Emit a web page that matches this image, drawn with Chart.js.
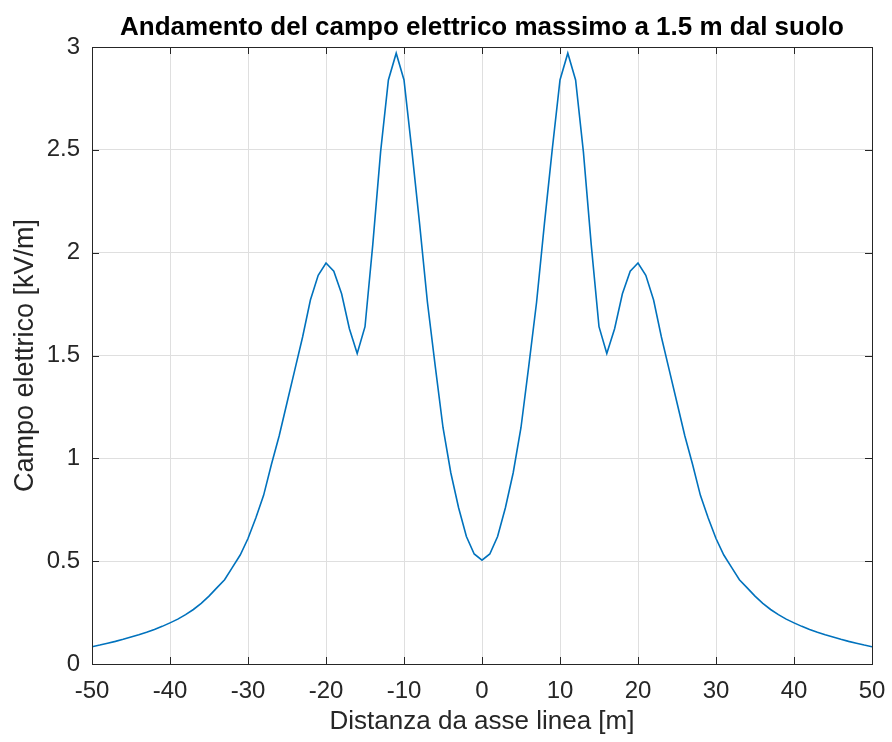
<!DOCTYPE html>
<html>
<head>
<meta charset="utf-8">
<script src="https://cdn.jsdelivr.net/npm/chart.js@4.4.1/dist/chart.umd.min.js"></script>
<style>
  html, body { margin: 0; padding: 0; background: #fff; }
  #wrap { width: 892px; height: 742px; }
</style>
</head>
<body>
<div id="wrap"><canvas id="fieldChart" width="892" height="742"></canvas></div>
<script>
// distance from line axis [m]
const distances = [
  -50, -49, -48, -47, -46, -45, -44, -43, -42, -41,
  -40, -39, -38, -37, -36, -35, -34, -33, -32, -31,
  -30, -29, -28, -27, -26, -25, -24, -23, -22, -21,
  -20, -19, -18, -17, -16, -15, -14, -13, -12, -11,
  -10, -9, -8, -7, -6, -5, -4, -3, -2, -1,
  0,
  1, 2, 3, 4, 5, 6, 7, 8, 9, 10,
  11, 12, 13, 14, 15, 16, 17, 18, 19, 20,
  21, 22, 23, 24, 25, 26, 27, 28, 29, 30,
  31, 32, 33, 34, 35, 36, 37, 38, 39, 40,
  41, 42, 43, 44, 45, 46, 47, 48, 49, 50
];

// max electric field at 1.5 m [kV/m]
const fieldValues = [
  0.084, 0.092, 0.101, 0.110, 0.120, 0.131, 0.142, 0.154, 0.168, 0.183,
  0.200, 0.218, 0.240, 0.265, 0.295, 0.330, 0.370, 0.410, 0.470, 0.530,
  0.610, 0.710, 0.820, 0.970, 1.110, 1.270, 1.430, 1.590, 1.770, 1.890,
  1.950, 1.910, 1.800, 1.630, 1.510, 1.640, 2.040, 2.490, 2.840, 2.970,
  2.840, 2.500, 2.140, 1.760, 1.450, 1.150, 0.930, 0.760, 0.620, 0.535,
  0.505,
  0.535, 0.620, 0.760, 0.930, 1.150, 1.450, 1.760, 2.140, 2.500, 2.840,
  2.970, 2.840, 2.490, 2.040, 1.640, 1.510, 1.630, 1.800, 1.910, 1.950,
  1.890, 1.770, 1.590, 1.430, 1.270, 1.110, 0.970, 0.820, 0.710, 0.610,
  0.530, 0.470, 0.410, 0.370, 0.330, 0.295, 0.265, 0.240, 0.218, 0.200,
  0.183, 0.168, 0.154, 0.142, 0.131, 0.120, 0.110, 0.101, 0.092, 0.084
];

const xTicks = [-50, -40, -30, -20, -10, 0, 10, 20, 30, 40, 50];
const yTicks = [0, 0.5, 1, 1.5, 2, 2.5, 3];

const titleText = "Andamento del campo elettrico massimo a 1.5 m dal suolo";
const xTitle = "Distanza da asse linea [m]";
const yTitle = "Campo elettrico [kV/m]";

const points = distances.map((d, i) => ({ x: d, y: fieldValues[i] }));

const font = "'Liberation Sans', Arial, Helvetica, sans-serif";

// MATLAB-like box with inward ticks on all four sides, title centred on the axes
const boxPlugin = {
  id: "boxTicks",
  afterDraw(chart) {
    const { ctx, chartArea: a, scales } = chart;
    const len = 7;
    ctx.save();
    ctx.strokeStyle = "#262626";
    ctx.lineWidth = 1;
    ctx.beginPath();
    xTicks.forEach(v => {
      const px = Math.round(scales.x.getPixelForValue(v)) + 0.5;
      ctx.moveTo(px, a.bottom); ctx.lineTo(px, a.bottom - len);
      ctx.moveTo(px, a.top); ctx.lineTo(px, a.top + len);
    });
    yTicks.forEach(v => {
      const py = Math.round(scales.y.getPixelForValue(v)) + 0.5;
      ctx.moveTo(a.left, py); ctx.lineTo(a.left + len, py);
      ctx.moveTo(a.right, py); ctx.lineTo(a.right - len, py);
    });
    ctx.stroke();
    ctx.strokeRect(Math.round(a.left) + 0.5, Math.round(a.top) + 0.5,
      Math.round(a.right - a.left), Math.round(a.bottom - a.top));

    ctx.fillStyle = "#000";
    ctx.font = "bold 26px " + font;
    ctx.textAlign = "center";
    ctx.textBaseline = "middle";
    ctx.fillText(titleText, (a.left + a.right) / 2, 28);
    ctx.restore();
  }
};

new Chart(document.getElementById("fieldChart").getContext("2d"), {
  type: "line",
  data: {
    datasets: [{
      data: points,
      borderColor: "#0072BD",
      borderWidth: 1.6,
      pointRadius: 0,
      fill: false,
      tension: 0
    }]
  },
  options: {
    responsive: false,
    animation: false,
    layout: { padding: { left: 0, right: 20, top: 47, bottom: 0 } },
    plugins: {
      legend: { display: false },
      tooltip: { enabled: false },
      title: { display: false }
    },
    scales: {
      x: {
        type: "linear",
        min: -50, max: 50,
        afterBuildTicks: s => { s.ticks = xTicks.map(v => ({ value: v })); },
        afterFit: s => { s.height = 78; s.paddingLeft = 0; s.paddingRight = 0; },
        grid: { color: "#dfdfdf", drawTicks: false },
        border: { display: false },
        ticks: { color: "#262626", padding: 13, font: { family: font, size: 24 },
          callback: v => String(v) },
        title: {
          display: true, text: xTitle, color: "#262626",
          font: { family: font, size: 26 }, padding: { top: 0, bottom: 5 }
        }
      },
      y: {
        min: 0, max: 3,
        afterBuildTicks: s => { s.ticks = yTicks.map(v => ({ value: v })); },
        afterFit: s => { s.width = 92; s.paddingTop = 0; s.paddingBottom = 0; },
        grid: { color: "#dfdfdf", drawTicks: false },
        border: { display: false },
        ticks: { color: "#262626", padding: 12, font: { family: font, size: 24 },
          callback: v => String(v) },
        title: {
          display: true, text: yTitle, color: "#262626",
          font: { family: font, size: 27 }, padding: { top: 9, bottom: 0 }
        }
      }
    }
  },
  plugins: [boxPlugin]
});
</script>
</body>
</html>
